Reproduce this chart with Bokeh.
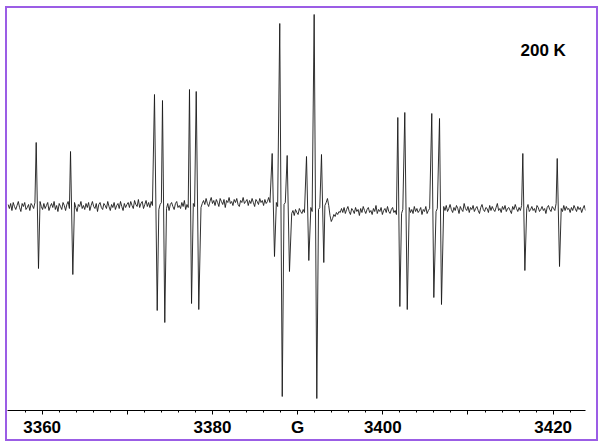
import numpy as np
from bokeh.plotting import figure
from bokeh.models import Range1d, FixedTicker, Label, ColumnDataSource
from bokeh.layouts import column
from bokeh.embed import file_html
from bokeh.resources import INLINE

# --- EPR derivative lines: positive and negative extrema (field in G, intensity a.u.)
line_top_field = [3359.30, 3363.33, 3373.19, 3374.13, 3377.30, 3378.09, 3387.01, 3387.90, 3388.77,
                  3391.04, 3391.94, 3392.80, 3401.76, 3402.58, 3405.75, 3406.66, 3416.44, 3420.48]
line_top_value = [63, 54, 111, 105, 116, 114, 52, 182, 50,
                  49, 191, 51, 88, 93, 92, 87, 52, 47]
line_bottom_field = [3359.57, 3363.60, 3373.51, 3374.40, 3377.54, 3378.39, 3387.28, 3388.19, 3389.04,
                     3391.31, 3392.25, 3393.07, 3402.00, 3402.87, 3405.99, 3406.89, 3416.68, 3420.75]
line_bottom_value = [-63, -69, -105, -117, -98, -104, -51, -191, -66,
                     -55, -193, -57, -101, -104, -92, -99, -65, -61]

# --- noisy baseline, sampled every 0.15 G from 3356.0 G
baseline_start = 3356.0
baseline_step = 0.15
baseline_values = [
    # 3356.0 - 3369.95
    1, -3, 2, -5, 3, -1, -4, 0, 4, -2, -6, 2, -1, 3, -4, -2, 1, -5, 2, 0,
    -3, 3, -2, -6, 1, 4, -1, -4, 2, -3, 0, 3, -5, -1, 2, -2, 4, -4, 0, -6,
    2, -1, -4, 3, 0, -5, 1, 4, -3, -1, 2, -4, 3, -2, -6, 1, -1, 4, -3, 0,
    -4, 2, -2, 3, -5, 0, 4, -1, -3, 2, -6, 1, 3, -2, -4, 2, 0, -3, 4, -1,
    -5, 1, -2, 3, -4, 0, 2, -3, 4, -1, -5, 2, -2, 1,
    # 3370.1 - 3372.95
    3, -2, 4, 0, -3, 5, 1, -1, 6, -2, 2, 4, -3, 1, 5, -1, 3, -2, 4, 0,
    # 3373.1 - 3378.8
    -3, 2, -1, 4, -4, 1, 3, -2, 0, 5, -3, 2, -5, 1, 3, -1, -4, 2, 4, -2,
    0, -3, 3, -1, 5, -4, 1, -2, 4, 0, -3, 2, -1, 3, -5, 1, 4, -2, 2,
    # 3378.95 - 3386.75
    5, 1, 7, 2, -1, 4, 8, 2, 5, 0, 6, 3, -1, 7, 4, 1, 6, -2, 5, 3,
    8, 2, 4, 0, 6, 3, 7, 1, -1, 5, 3, 8, 2, 4, 6, 0, 5, 2, 7, 3,
    -1, 6, 4, 1, 7, 3, 5, 0, 6, 2, 4, 8, 3,
    # 3386.9 - 3389.0
    4, 0, 5, 1, 3, -1, 4, 2, 0, 5, 1, 3, -2, 4, 2,
    # 3389.15 - 3390.8
    -3, -8, -5, -10, -4, -7, -9, -3, -6, -8, -4, -7,
    # 3390.95 - 3393.2
    -1, -5, 0, -4, -2, -6, -1, -3, -5, 0, -4, -2, -6, -1, -3, 0,
    # 3393.35 - 3395.0
    3, 7, 0, -10, -16, -13, -9, -11, -7, -9, -6, -7,
    # 3395.15 - 3407.0
    -3, -7, -2, -8, -4, -1, -6, -9, -3, -5, -8, -2, -6, -4, -10, -3, -7, -1, -5, -8,
    -4, -2, -7, -5, -9, -3, -6, 0, -8, -4, -6, -2, -9, -5, -3, -7, -1, -6, -8, -4,
    -2, -7, -5, -9, -3, -6, -1, -8, -4, -6, -3, -9, -5, -2, -7, -4, -8, -1, -6, -3,
    -7, -5, -2, -9, -4, -6, -1, -8, -5, -3, -7, -2, -9, -4, -6, -3, -8, -5, -1, -6,
    # 3407.15 - 3423.8
    -1, -5, 0, -6, -3, 1, -4, -7, -2, -5, 0, -3, -8, -1, -4, -6, 2, -3, -5, -1,
    -7, -2, -4, 0, -6, -3, -1, -5, -8, -2, 1, -4, -6, -2, -3, -7, 0, -5, -1, -4,
    -6, -2, 2, -5, -3, -7, -1, -4, 0, -6, -3, -2, -5, -8, -1, -4, 1, -3, -6, -2,
    -5, 0, -4, -7, -2, -3, 1, -6, -4, -1, -5, -3, -7, 0, -2, -6, -4, -1, -5, -3,
    -8, -2, 0, -4, -6, -1, -3, -5, 2, -4, -7, -2, -3, -6, 0, -5, -1, -4, -3, -7,
    -2, -5, 0, -3, -6, -1, -4, -2, -7, -3, 0, -5,
]

# --- axis ticks and annotation
tick_values = [3360, 3370, 3380, 3390, 3400, 3410, 3420]
tick_labels = ["3360", "", "3380", "G", "3400", "", "3420"]
minor_tick_values = list(range(3358, 3424, 2))
temperature_label = "200 K"

# ---------------------------------------------------------------------------
baseline_field = baseline_start + baseline_step * np.arange(len(baseline_values))
points = []
for f, v in zip(baseline_field, baseline_values):
    inside = any(t - 0.12 <= f <= b + 0.12 for t, b in zip(line_top_field, line_bottom_field))
    if not inside:
        points.append((float(f), float(v)))
for tf, tv, bf, bv in zip(line_top_field, line_top_value, line_bottom_field, line_bottom_value):
    points.append((tf, tv))
    points.append((bf, bv))
points.sort()
src = ColumnDataSource(data=dict(field=[p_[0] for p_ in points],
                                 intensity=[p_[1] for p_ in points]))

p = figure(frame_width=578, frame_height=402,
           x_range=Range1d(3355.93, 3423.8), y_range=Range1d(-205, 197),
           output_backend="svg", toolbar_location=None,
           y_axis_location=None,
           min_border_left=0, min_border_right=11, min_border_top=0, min_border_bottom=28)
p.outline_line_color = None
p.grid.visible = False
p.background_fill_color = "white"
p.border_fill_color = "white"

p.line("field", "intensity", source=src, line_color="#1a1a1a", line_width=0.9)

ax = p.xaxis[0]
ax.ticker = FixedTicker(ticks=tick_values, minor_ticks=minor_tick_values)
ax.major_label_overrides = {v: s for v, s in zip(tick_values, tick_labels)}
ax.axis_line_color = "black"
ax.axis_line_width = 1
ax.major_tick_in = 0
ax.major_tick_out = 4
ax.minor_tick_in = 0
ax.minor_tick_out = 2
ax.major_tick_line_color = "black"
ax.minor_tick_line_color = "black"
ax.major_label_text_font = "Liberation Sans"
ax.major_label_text_font_style = "bold"
ax.major_label_text_font_size = "17px"
ax.major_label_text_color = "black"
ax.major_label_standoff = 3

p.add_layout(Label(x=3416.17, y=155, text=temperature_label,
                   text_font="Liberation Sans", text_font_style="bold",
                   text_font_size="17px", text_color="black",
                   text_align="left", text_baseline="alphabetic"))

layout = column(p, styles={"border": "2px solid #9b5de5",
                           "margin-left": "5px", "margin-top": "6px"})

open("out.html", "w").write(file_html(layout, INLINE))
